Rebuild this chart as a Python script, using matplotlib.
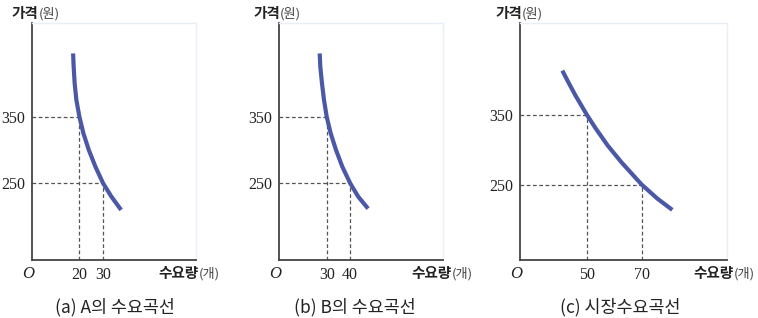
import matplotlib
matplotlib.use("Agg")
import matplotlib.pyplot as plt

plt.rcParams['font.family'] = ['Noto Sans CJK KR', 'DejaVu Sans']

# values
price_ticks = [250, 350]

qty_a = [17.34, 17.58, 18.0, 18.73, 20.0, 21.69, 23.97, 26.75, 30.0, 33.5, 37.6]
price_a = [445, 425, 400, 375, 350, 325, 300, 275, 250, 230, 210]

qty_b = [27.02, 27.28, 28.0, 28.85, 30.0, 31.7, 33.96, 36.64, 40.0, 43.4, 47.6]
price_b = [445, 425, 400, 375, 350, 325, 300, 275, 250, 230, 212]

qty_c = [41.1, 43.2, 45.8, 50.0, 53.3, 57.6, 62.6, 70.0, 75.7, 81.1]
price_c = [413, 397, 378, 350, 330, 306, 282, 250, 230, 214]

ticks_a = [20, 30]
ticks_b = [30, 40]
ticks_c = [50, 70]

titles = ["(a) A의 수요곡선", "(b) B의 수요곡선", "(c) 시장수요곡선"]

W, H = 758, 318
fig = plt.figure(figsize=(W / 100, H / 100), dpi=100)

# panel boxes in pixels: left, right, top, bottom
boxes = [(32, 196, 23, 260), (279, 443, 23, 260), (520, 727, 23, 260)]
xlims = [(0.0, 69.2), (9.7, 79.5), (25.7, 101.0)]
ylims = [(134.8, 490.7), (134.8, 490.7), (142.4, 481.0)]
qty_label_dx = [24, 30, 28]
price_label_dx = [-20, -26, -25]
title_dx = [1, -6, -3]

series = [(qty_a, price_a, ticks_a), (qty_b, price_b, ticks_b), (qty_c, price_c, ticks_c)]

line_col = '#4b58a6'
axis_col = '#444444'
dash_col = '#555555'
serif = 'Liberation Serif'

for i, (qty, price, qticks) in enumerate(series):
    l, r, t, b = boxes[i]
    ax = fig.add_axes([l / W, (H - b) / H, (r - l) / W, (b - t) / H])
    ax.set_xlim(*xlims[i])
    ax.set_ylim(*ylims[i])
    x0, y0 = xlims[i][0], ylims[i][0]

    for s in ['left', 'bottom']:
        ax.spines[s].set_color(axis_col)
        ax.spines[s].set_linewidth(1.3)
    for s in ['top', 'right']:
        ax.spines[s].set_color('#e9eff6')
        ax.spines[s].set_linewidth(1.0)

    # guide lines at the tick prices
    for q, p in zip(qticks, [350, 250]):
        ax.plot([x0, q], [p, p], color=dash_col, lw=0.9, ls=(0, (3, 2)))
        ax.plot([q, q], [y0, p], color=dash_col, lw=0.9, ls=(0, (3, 2)))

    ax.plot(qty, price, color=line_col, lw=3.0, solid_capstyle='butt', solid_joinstyle='round')

    ax.set_yticks(price_ticks)
    ax.set_yticklabels([str(v) for v in price_ticks], fontfamily=serif, fontsize=11.5, color='#222222')
    ax.set_xticks(qticks)
    ax.set_xticklabels([str(v) for v in qticks], fontfamily=serif, fontsize=11.5, color='#222222')
    ax.tick_params(length=0)
    ax.tick_params(axis='y', pad=5)
    ax.tick_params(axis='x', pad=5)

    ax.annotate('O', xy=(0, 0), xycoords='axes fraction', xytext=(-4, -14),
                textcoords='offset pixels', ha='center', va='center',
                fontfamily=serif, fontstyle='italic', fontsize=12, color='#222222')

    # price label: bold word + light unit
    t1 = ax.annotate('가격', xy=(0, 1), xycoords='axes fraction', xytext=(price_label_dx[i], 10),
                     textcoords='offset pixels', ha='left', va='center',
                     fontsize=10.5, fontweight='bold', color='#222222')
    ax.annotate('(원)', xy=(1, 0.45), xycoords=t1, ha='left', va='center',
                fontsize=9.5, color='#444444')

    # quantity label
    t2 = ax.annotate('(개)', xy=(1, 0), xycoords='axes fraction', xytext=(qty_label_dx[i], -14),
                     textcoords='offset pixels', ha='right', va='center',
                     fontsize=9.5, color='#444444')
    ax.annotate('수요량', xy=(0, 0.55), xycoords=t2, ha='right', va='center',
                fontsize=10.5, fontweight='bold', color='#222222')

    ax.annotate(titles[i], xy=(0.5, 0), xycoords='axes fraction', xytext=(title_dx[i], -47),
                textcoords='offset pixels', ha='center', va='center',
                fontsize=12.5, color='#222222')

fig.savefig('out.png', dpi=100)
